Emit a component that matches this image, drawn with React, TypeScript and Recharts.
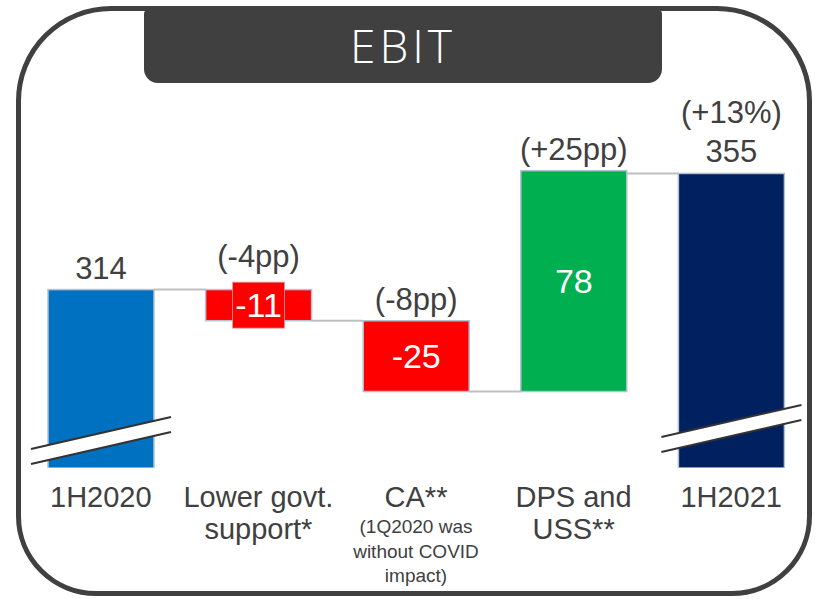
import React from "react";
import { BarChart, Bar, XAxis, YAxis, LabelList } from "recharts";

const categories = ["1H2020", "Lower govt. support*", "CA**", "DPS and USS**", "1H2021"];
const values = [314, -11, -25, 78, 355];
const kinds = ["total", "delta", "delta", "delta", "total"];
const shareLabels = ["", "(-4pp)", "(-8pp)", "(+25pp)", "(+13%)"];
const tickLines = [["1H2020"], ["Lower govt.", "support*"], ["CA**"], ["DPS and", "USS**"], ["1H2021"]];
const tickNotes = [[], [], ["(1Q2020 was", "without COVID", "impact)"], [], []];

const AXIS_FLOOR = 251;
const AXIS_TOP = 400;

const WIDTH = 816;
const HEIGHT = 599;
const MARGIN = { top: 46, right: 6, bottom: 0, left: 22 };
const BAR_SIZE = 106;
const BAND = (WIDTH - MARGIN.left - MARGIN.right) / categories.length;
const GAP = BAND - BAR_SIZE;

const TEXT = "#404040";
const FONT = "'Liberation Sans', Arial, sans-serif";

// build waterfall rows from the arrays above
let running = 0;
const data = categories.map((name, i) => {
  const v = values[i];
  let range: [number, number];
  let fill: string;
  if (kinds[i] === "total") {
    running = v;
    range = [AXIS_FLOOR, v];
    fill = i === 0 ? "#0070C0" : "#002060";
  } else {
    const start = running;
    running = start + v;
    range = [Math.min(start, running), Math.max(start, running)];
    fill = v < 0 ? "#FF0000" : "#00B050";
  }
  const top = kinds[i] === "total" ? [shareLabels[i], String(v)].filter(Boolean) : [shareLabels[i]];
  return { name, range, fill, kind: kinds[i], delta: v, top, index: i };
});

function WaterfallBar(props: any) {
  const { x, width, payload, index } = props;
  let { y, height } = props;
  if (height < 0) {
    y += height;
    height = -height;
  }
  const bottom = y + height;
  const level = payload.kind === "delta" && payload.delta > 0 ? bottom : y;
  const lift = index === 0 ? 0 : 12;
  const bx0 = x - 17;
  const bx1 = x + width + 17;
  const l1a = bottom - 19 - lift;
  const l1b = bottom - 51 - lift;
  const l2a = bottom - 4 - lift;
  const l2b = bottom - 36 - lift;
  return (
    <g>
      {index > 0 && (
        <line x1={x - GAP} x2={x} y1={level} y2={level} stroke="#BFBFBF" strokeWidth={2} />
      )}
      <rect x={x} y={y} width={width} height={height} fill={payload.fill} stroke="#B4C2D2" strokeWidth={1.5} />
      {payload.kind === "delta" && height < 40 && (
        <rect x={x + width / 2 - 26} y={y + height / 2 - 23} width={52} height={46} fill={payload.fill} stroke="#E0A0A0" strokeWidth={0.8} />
      )}
      {payload.kind === "total" && (
        <g>
          <polygon points={`${bx0},${l1a} ${bx1},${l1b} ${bx1},${l2b} ${bx0},${l2a}`} fill="#fff" />
          <line x1={bx0} y1={l1a} x2={bx1} y2={l1b} stroke="#333" strokeWidth={2} />
          <line x1={bx0} y1={l2a} x2={bx1} y2={l2b} stroke="#333" strokeWidth={2} />
        </g>
      )}
    </g>
  );
}

function TopLabel(props: any) {
  const { x, width, index } = props;
  let { y, height } = props;
  if (height < 0) {
    y += height;
    height = -height;
  }
  const row = data[index];
  const lines = row.top;
  const cx = x + width / 2;
  const offset = row.kind === "delta" && height < 40 ? 34 : 22;
  const last = y - offset + 11;
  return (
    <g>
      {lines.map((t: string, k: number) => (
        <text key={k} x={cx} y={last - (lines.length - 1 - k) * 39} textAnchor="middle" fontSize={31} fill={TEXT} fontFamily={FONT}>
          {t}
        </text>
      ))}
    </g>
  );
}

function InsideLabel(props: any) {
  const { x, width, index } = props;
  let { y, height } = props;
  if (height < 0) {
    y += height;
    height = -height;
  }
  const row = data[index];
  if (row.kind !== "delta") return null;
  return (
    <text x={x + width / 2} y={y + height / 2 + 12} textAnchor="middle" fontSize={34} fill="#fff" fontFamily={FONT}>
      {String(row.delta)}
    </text>
  );
}

function CategoryTick(props: any) {
  const { x, y, index } = props;
  const lines = tickLines[index] || [];
  const notes = tickNotes[index] || [];
  return (
    <g>
      {lines.map((t, k) => (
        <text key={t} x={x} y={y + 31 + k * 32} textAnchor="middle" fontSize={29} fill={TEXT} fontFamily={FONT}>
          {t}
        </text>
      ))}
      {notes.map((t, k) => (
        <text key={t} x={x} y={y + 57 + k * 24.5} textAnchor="middle" fontSize={19} fill={TEXT} fontFamily={FONT}>
          {t}
        </text>
      ))}
    </g>
  );
}

export default function App() {
  return (
    <div style={{ position: "fixed", left: 0, top: 0, width: WIDTH, height: HEIGHT, background: "#fff", overflow: "hidden" }}>
      <div
        style={{
          position: "absolute",
          left: 16,
          top: 6,
          width: 796,
          height: 590,
          boxSizing: "border-box",
          border: "5px solid #404040",
          borderRadius: "95px 95px 80px 80px",
        }}
      />
      <div
        style={{
          position: "absolute",
          left: 144,
          top: 10,
          width: 518,
          height: 73,
          background: "#404040",
          borderRadius: "4px 4px 14px 14px",
          color: "#fff",
          fontFamily: "'Open Sans', 'DejaVu Sans', sans-serif",
          fontWeight: 300,
          fontSize: 46,
          letterSpacing: 4,
          textAlign: "center",
          lineHeight: "70px",
        }}
      >
        EBIT
      </div>
      <div style={{ position: "absolute", left: 0, top: 0 }}>
        <BarChart width={WIDTH} height={HEIGHT} data={data} margin={MARGIN} barSize={BAR_SIZE}>
          <XAxis dataKey="name" height={131} axisLine={false} tickLine={false} interval={0} tick={<CategoryTick />} />
          <YAxis hide domain={[AXIS_FLOOR, AXIS_TOP]} allowDataOverflow />
          <Bar dataKey="range" isAnimationActive={false} shape={<WaterfallBar />}>
            <LabelList dataKey="range" content={<TopLabel />} />
            <LabelList dataKey="range" content={<InsideLabel />} />
          </Bar>
        </BarChart>
      </div>
    </div>
  );
}
